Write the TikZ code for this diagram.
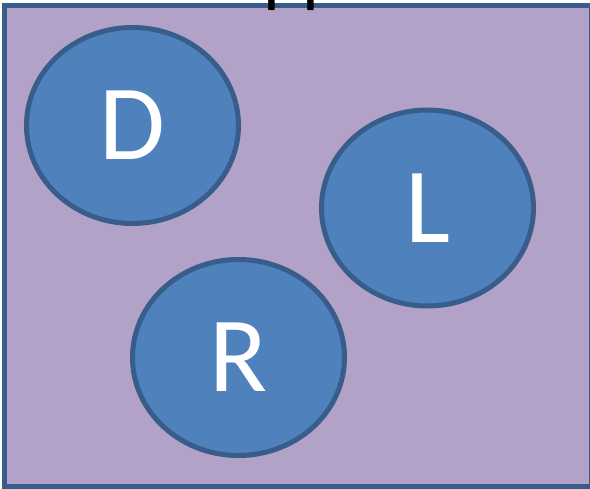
\documentclass[tikz,border=0pt]{standalone}
\usepackage{fontspec}
\newfontfamily\calfont{Carlito}
\usetikzlibrary{shapes.geometric}
\definecolor{boxfill}{HTML}{B3A2C7}
\definecolor{edgeblue}{HTML}{385D8A}
\definecolor{ballfill}{HTML}{4F81BD}
\tikzset{
  ball/.style={ellipse, draw=edgeblue, fill=ballfill, line width=5pt,
    minimum width=212pt, minimum height=196pt, inner sep=0pt,
    text=white, font=\calfont\fontsize{107}{120}\selectfont},
  frame/.style={draw=edgeblue, fill=boxfill, line width=5pt}
}
\begin{document}
\begin{tikzpicture}[x=1pt,y=-1pt]
\useasboundingbox[fill=white] (0,0) rectangle (590,489);
\draw[frame] (4.5,5.5) rectangle (591,487);
\node[ball] (D) at (132.5,125.5) {\raisebox{-4pt}{D}};
\node[ball] (L) at (427.5,208) {\raisebox{-4pt}{L}};
\node[ball] (R) at (238.5,357.5) {\raisebox{-4pt}{R}};
\node[anchor=base west, inner sep=0pt, text=black,
  font=\calfont\fontsize{75}{90}\selectfont] (title) at (150,-1.5) {Shoppe};
\end{tikzpicture}
\end{document}
